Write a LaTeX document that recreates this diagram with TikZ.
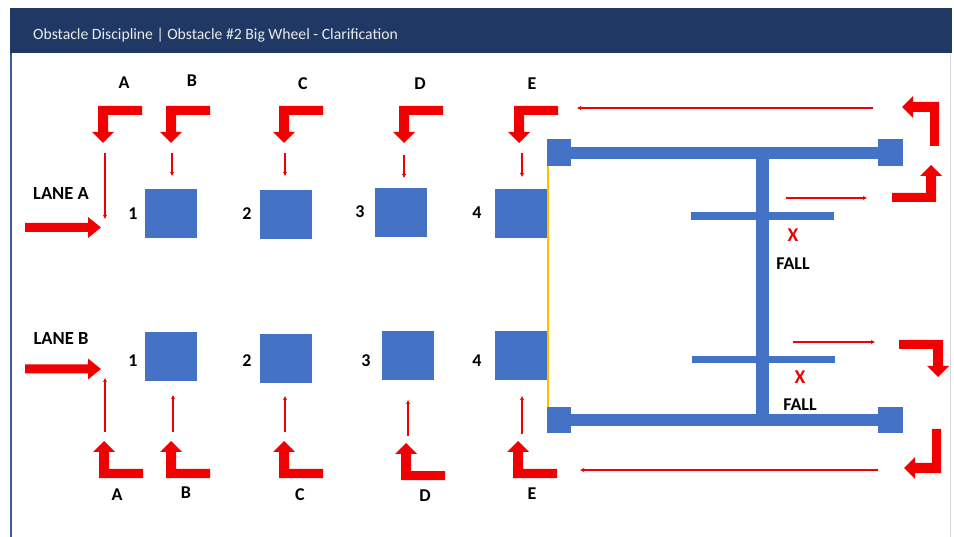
\documentclass[tikz,border=0pt]{standalone}
\usepackage{fontspec}
\setmainfont{Carlito}
\usetikzlibrary{arrows.meta}
\definecolor{navy}{HTML}{203864}
\definecolor{boxblue}{HTML}{4472C4}
\definecolor{arrred}{HTML}{F00000}
\definecolor{gold}{HTML}{FFC000}
\tikzset{
  sq/.style={fill=boxblue, inner sep=0pt, minimum width=52pt, minimum height=49pt},
  lbl/.style={font=\bfseries\fontsize{18}{18}\selectfont, inner sep=0pt},
  lane/.style={font=\bfseries\fontsize{18.5}{18.5}\selectfont, inner sep=0pt},
  xmark/.style={font=\bfseries\fontsize{19.5}{19.5}\selectfont, text=arrred, inner sep=0pt},
  thin/.style={draw=arrred, line width=1.1pt, -{Triangle[length=4pt,width=3.5pt]}},
  wheel/.style={fill=boxblue},
}
\newcommand\bentarrow[3]{%
  \begin{scope}[shift={#1},x={#2},y={#3}]
    \fill[arrred] (0,0) -- (44,0) -- (44,9) -- (10,9) -- (10,26) -- (16,26) -- (5,37) -- (-6,26) -- (0,26) -- cycle;
  \end{scope}}
\newcommand\lanearrow[1]{%
  \begin{scope}[shift={#1}]
    \fill[arrred] (0,-4.5) -- (63,-4.5) -- (63,-10.5) -- (76,0) -- (63,10.5) -- (63,4.5) -- (0,4.5) -- cycle;
  \end{scope}}
\begin{document}
\begin{tikzpicture}[x=1pt,y=-1pt]
\useasboundingbox (0,0) rectangle (954,537);
% frame
\fill[white] (0,0) rectangle (954,537);
\fill[navy] (10,8) rectangle (952,53);
\node[anchor=west, text=white!92!black, font=\fontsize{15.7}{15.7}\selectfont, inner sep=0pt] (title) at (33,35) {Obstacle Discipline | Obstacle \#2 Big Wheel - Clarification};
\draw[boxblue!80!black, line width=2pt] (11,53) -- (11,537);
\draw[black!15, line width=0.8pt] (950,53) -- (950,537);

% squares
\node[sq] (s1a) at (171,213.5) {};
\node[sq] (s2a) at (286,214.5) {};
\node[sq] (s3a) at (400.5,212.5) {};
\node[sq] (s4a) at (521,214) {};
\node[sq] (s1b) at (171,357) {};
\node[sq] (s2b) at (286,358.5) {};
\node[sq] (s3b) at (407.5,355.5) {};
\node[sq] (s4b) at (521,356) {};

% numbers
\node[lbl] (n1a) at (133,214) {1};
\node[lbl] (n2a) at (247,214) {2};
\node[lbl] (n3a) at (360,212) {3};
\node[lbl] (n4a) at (477,213) {4};
\node[lbl] (n1b) at (133,361) {1};
\node[lbl] (n2b) at (247,361) {2};
\node[lbl] (n3b) at (366,361) {3};
\node[lbl] (n4b) at (477,361) {4};

% letters
\node[lbl] (ta) at (124,83) {A};
\node[lbl] (tb) at (192,81) {B};
\node[lbl] (tc) at (303,84) {C};
\node[lbl] (td) at (420,84) {D};
\node[lbl] (te) at (532,84) {E};
\node[lbl] (ba) at (117,495) {A};
\node[lbl] (bb) at (186,493) {B};
\node[lbl] (bc) at (300,495) {C};
\node[lbl] (bd) at (425,496) {D};
\node[lbl] (be) at (532,494) {E};

% lanes
\node[lane] (laneA) at (61,194) {LANE A};
\node[lane] (laneB) at (61,339) {LANE B};
\lanearrow{(25,227.5)}
\lanearrow{(25,369)}

% bent arrows, top row (head down)
\foreach \px in {98,166,279,399,514}{
  \bentarrow{(\px,106)}{(1pt,0pt)}{(0pt,-1pt)}
}
% bent arrows, bottom row (head up)
\foreach \px/\py in {99/478,166/478,279/478,401/480,513/478}{
  \bentarrow{(\px,\py)}{(1pt,0pt)}{(0pt,1pt)}
}
% right side bent arrows
\bentarrow{(939,102)}{(0pt,-1pt)}{(-1pt,0pt)}
\bentarrow{(936,202)}{(-1pt,0pt)}{(0pt,1pt)}
\bentarrow{(943,340)}{(-1pt,0pt)}{(0pt,-1pt)}
\bentarrow{(941,473)}{(0pt,1pt)}{(-1pt,0pt)}

% thin arrows
\coordinate (ta1) at (105,153); \coordinate (ta2) at (105,219);
\coordinate (tb1) at (172,153); \coordinate (tb2) at (172,176);
\coordinate (tc1) at (285,153); \coordinate (tc2) at (285,176);
\coordinate (td1) at (404,155); \coordinate (td2) at (404,178);
\coordinate (te1) at (522,153); \coordinate (te2) at (522,177);
\draw[thin] (ta1) -- (ta2);
\draw[thin] (tb1) -- (tb2);
\draw[thin] (tc1) -- (tc2);
\draw[thin] (td1) -- (td2);
\draw[thin] (te1) -- (te2);
\coordinate (ba1) at (105,432); \coordinate (ba2) at (105,378);
\coordinate (bb1) at (173,432); \coordinate (bb2) at (173,395);
\coordinate (bc1) at (285,432); \coordinate (bc2) at (285,396);
\coordinate (bd1) at (408,436); \coordinate (bd2) at (408,400);
\coordinate (be1) at (522,434); \coordinate (be2) at (522,396);
\draw[thin] (ba1) -- (ba2);
\draw[thin] (bb1) -- (bb2);
\draw[thin] (bc1) -- (bc2);
\draw[thin] (bd1) -- (bd2);
\draw[thin] (be1) -- (be2);

% wheel
\draw[gold, line width=2pt] (548,166) -- (548,407);
\fill[wheel] (560,147) rectangle (890,159);
\fill[wheel] (560,414) rectangle (890,426);
\fill[wheel] (756,158) rectangle (769,415);
\fill[wheel] (691,212) rectangle (834,220);
\fill[wheel] (692,356) rectangle (835,363);
\fill[wheel] (547,139) rectangle (571,166);
\fill[wheel] (878,139) rectangle (903,166);
\fill[wheel] (547,407) rectangle (571,433);
\fill[wheel] (878,407) rectangle (903,433);

% long arrows
\coordinate (l1a) at (873,108); \coordinate (l1b) at (577,108);
\coordinate (l2a) at (878,470); \coordinate (l2b) at (580,470);
\draw[thin] (l1a) -- (l1b);
\draw[thin] (l2a) -- (l2b);
\coordinate (r1a) at (786,198); \coordinate (r1b) at (867,198);
\coordinate (r2a) at (793,342); \coordinate (r2b) at (875,342);
\draw[thin] (r1a) -- (r1b);
\draw[thin] (r2a) -- (r2b);

% falls
\node[xmark] (x1) at (793,235) {X};
\node[lbl] (f1) at (793,264) {FALL};
\node[xmark] (x2) at (800,377) {X};
\node[lbl] (f2) at (800,405) {FALL};
\end{tikzpicture}
\end{document}
